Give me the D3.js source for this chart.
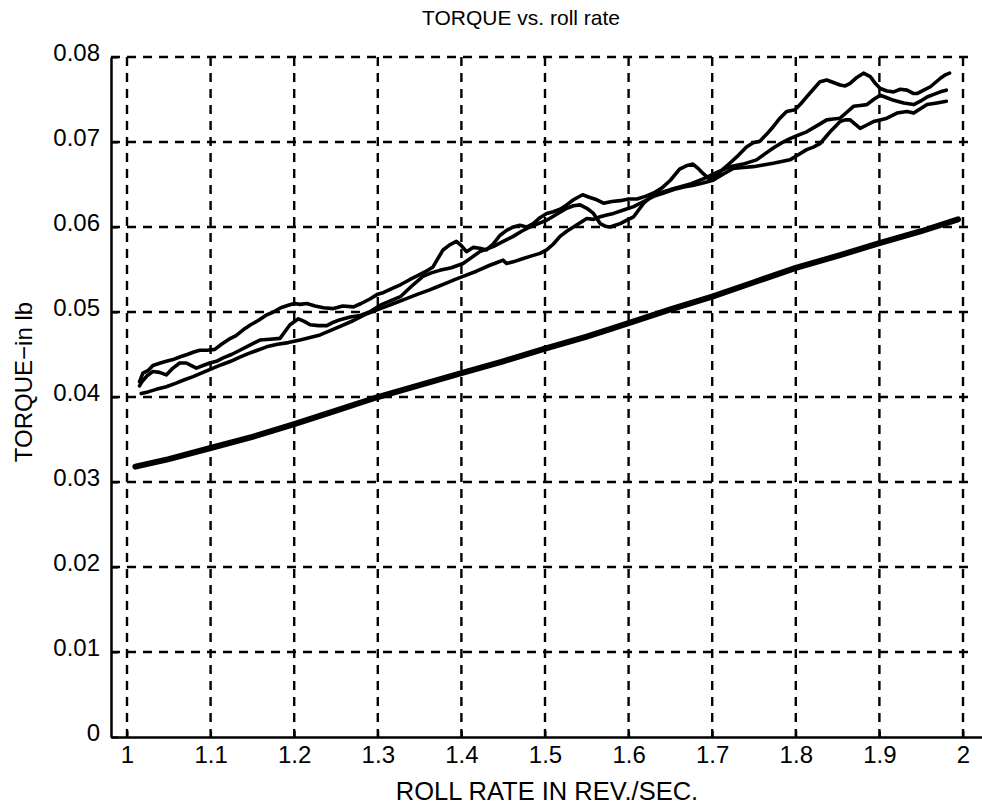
<!DOCTYPE html>
<html>
<head>
<meta charset="utf-8">
<script src="https://cdn.jsdelivr.net/npm/d3@7"></script>
<style>
    body { margin: 0; background: #fff; }
    text { font-family: 'Liberation Sans', Arial, sans-serif; fill: #000; }
</style>
</head>
<body>
<div id="container"></div>
<script>

// chart data: [roll rate, torque]
const xTicks = [1, 1.1, 1.2, 1.3, 1.4, 1.5, 1.6, 1.7, 1.8, 1.9, 2];
const yTicks = [0, 0.01, 0.02, 0.03, 0.04, 0.05, 0.06, 0.07, 0.08];

const runA = [[1.015,0.0418],[1.019,0.0428],[1.025,0.0431],[1.031,0.0437],[1.040,0.0440],[1.047,0.0442],[1.055,0.0444],[1.063,0.0447],[1.072,0.0450],[1.080,0.0453],[1.087,0.0455],[1.096,0.0455],[1.105,0.0456],[1.113,0.0462],[1.122,0.0468],[1.130,0.0472],[1.139,0.0479],[1.148,0.0485],[1.157,0.0490],[1.166,0.0496],[1.175,0.0500],[1.184,0.0505],[1.193,0.0508],[1.200,0.0510],[1.207,0.0509],[1.215,0.0510],[1.225,0.0507],[1.235,0.0505],[1.247,0.0504],[1.258,0.0507],[1.271,0.0506],[1.280,0.0510],[1.290,0.0515],[1.300,0.0521],[1.307,0.0523],[1.318,0.0528],[1.327,0.0532],[1.338,0.0538],[1.350,0.0544],[1.358,0.0548],[1.366,0.0553],[1.372,0.0563],[1.378,0.0573],[1.386,0.0579],[1.394,0.0583],[1.400,0.0578],[1.406,0.0571],[1.414,0.0576],[1.422,0.0575],[1.430,0.0573],[1.438,0.0580],[1.446,0.0590],[1.454,0.0596],[1.462,0.0600],[1.470,0.0602],[1.478,0.0600],[1.486,0.0604],[1.494,0.0611],[1.502,0.0616],[1.510,0.0618],[1.518,0.0621],[1.526,0.0626],[1.534,0.0632],[1.545,0.0638],[1.553,0.0635],[1.562,0.0632],[1.570,0.0628],[1.580,0.0630],[1.590,0.0631],[1.600,0.0633],[1.610,0.0633],[1.620,0.0636],[1.630,0.0640],[1.640,0.0646],[1.650,0.0655],[1.661,0.0668],[1.669,0.0672],[1.677,0.0674],[1.683,0.0669],[1.689,0.0663],[1.697,0.0656],[1.705,0.0660],[1.713,0.0668],[1.721,0.0675],[1.731,0.0684],[1.741,0.0694],[1.749,0.0699],[1.757,0.0701],[1.765,0.0709],[1.773,0.0718],[1.781,0.0728],[1.789,0.0736],[1.799,0.0738],[1.806,0.0745],[1.813,0.0753],[1.821,0.0762],[1.829,0.0771],[1.837,0.0773],[1.845,0.0770],[1.853,0.0767],[1.859,0.0766],[1.865,0.0769],[1.873,0.0776],[1.881,0.0781],[1.889,0.0777],[1.895,0.0769],[1.901,0.0763],[1.909,0.0760],[1.917,0.0759],[1.925,0.0762],[1.933,0.0761],[1.941,0.0757],[1.945,0.0757],[1.953,0.0761],[1.961,0.0765],[1.967,0.0770],[1.973,0.0775],[1.979,0.0779],[1.984,0.0781]];

const runB = [[1.015,0.0413],[1.018,0.0418],[1.024,0.0425],[1.031,0.0430],[1.039,0.0429],[1.047,0.0426],[1.055,0.0434],[1.063,0.0440],[1.071,0.0440],[1.077,0.0437],[1.083,0.0434],[1.091,0.0437],[1.099,0.0440],[1.107,0.0442],[1.115,0.0446],[1.125,0.0450],[1.135,0.0455],[1.147,0.0461],[1.159,0.0467],[1.171,0.0468],[1.183,0.0469],[1.189,0.0477],[1.195,0.0485],[1.205,0.0492],[1.212,0.0489],[1.219,0.0485],[1.229,0.0484],[1.239,0.0484],[1.247,0.0488],[1.255,0.0491],[1.267,0.0494],[1.279,0.0496],[1.290,0.0500],[1.303,0.0508],[1.315,0.0513],[1.327,0.0518],[1.340,0.0530],[1.354,0.0542],[1.364,0.0546],[1.374,0.0549],[1.388,0.0552],[1.402,0.0557],[1.412,0.0564],[1.422,0.0571],[1.430,0.0574],[1.438,0.0577],[1.450,0.0583],[1.462,0.0589],[1.472,0.0595],[1.482,0.0600],[1.492,0.0604],[1.502,0.0608],[1.514,0.0615],[1.526,0.0622],[1.534,0.0625],[1.542,0.0626],[1.550,0.0622],[1.558,0.0616],[1.566,0.0604],[1.572,0.0601],[1.578,0.0600],[1.584,0.0602],[1.590,0.0604],[1.598,0.0608],[1.606,0.0612],[1.612,0.0620],[1.618,0.0628],[1.630,0.0638],[1.640,0.0641],[1.650,0.0644],[1.661,0.0647],[1.675,0.0651],[1.690,0.0657],[1.705,0.0664],[1.721,0.0671],[1.737,0.0674],[1.753,0.0679],[1.763,0.0686],[1.773,0.0693],[1.783,0.0699],[1.793,0.0704],[1.803,0.0708],[1.813,0.0712],[1.825,0.0719],[1.837,0.0726],[1.845,0.0727],[1.853,0.0728],[1.861,0.0735],[1.869,0.0742],[1.877,0.0743],[1.885,0.0744],[1.893,0.0750],[1.901,0.0755],[1.909,0.0752],[1.917,0.0749],[1.929,0.0746],[1.941,0.0744],[1.949,0.0748],[1.957,0.0753],[1.965,0.0756],[1.973,0.0759],[1.980,0.0761]];

const runC = [[1.017,0.0404],[1.025,0.0406],[1.035,0.0409],[1.047,0.0412],[1.058,0.0416],[1.068,0.0420],[1.079,0.0424],[1.091,0.0429],[1.103,0.0434],[1.113,0.0438],[1.124,0.0442],[1.135,0.0447],[1.145,0.0451],[1.156,0.0455],[1.167,0.0459],[1.180,0.0462],[1.193,0.0464],[1.207,0.0467],[1.219,0.0470],[1.231,0.0473],[1.243,0.0478],[1.255,0.0483],[1.271,0.0490],[1.287,0.0498],[1.303,0.0504],[1.319,0.0510],[1.335,0.0516],[1.348,0.0521],[1.362,0.0526],[1.372,0.0530],[1.382,0.0534],[1.392,0.0538],[1.402,0.0542],[1.418,0.0548],[1.434,0.0555],[1.442,0.0558],[1.450,0.0561],[1.454,0.0557],[1.462,0.0559],[1.474,0.0563],[1.484,0.0566],[1.494,0.0569],[1.502,0.0573],[1.510,0.0580],[1.518,0.0589],[1.526,0.0595],[1.534,0.0600],[1.542,0.0605],[1.550,0.0610],[1.558,0.0609],[1.566,0.0612],[1.574,0.0614],[1.582,0.0616],[1.594,0.0620],[1.606,0.0624],[1.618,0.0630],[1.630,0.0636],[1.642,0.0640],[1.654,0.0644],[1.666,0.0647],[1.678,0.0649],[1.690,0.0652],[1.701,0.0655],[1.713,0.0662],[1.725,0.0669],[1.737,0.0670],[1.749,0.0671],[1.761,0.0673],[1.773,0.0675],[1.783,0.0677],[1.793,0.0679],[1.803,0.0685],[1.813,0.0691],[1.821,0.0694],[1.829,0.0698],[1.835,0.0705],[1.841,0.0712],[1.847,0.0718],[1.853,0.0724],[1.859,0.0726],[1.865,0.0726],[1.871,0.0721],[1.877,0.0716],[1.885,0.0720],[1.893,0.0724],[1.901,0.0726],[1.909,0.0728],[1.915,0.0731],[1.921,0.0734],[1.933,0.0736],[1.941,0.0734],[1.949,0.0739],[1.957,0.0744],[1.969,0.0746],[1.980,0.0748]];

const theory = [[1.010,0.0318],[1.05,0.0327],[1.10,0.0340],[1.15,0.0353],[1.20,0.0368],[1.25,0.0384],[1.30,0.0400],[1.35,0.0414],[1.40,0.0428],[1.45,0.0442],[1.50,0.0457],[1.55,0.0471],[1.60,0.0487],[1.65,0.0503],[1.70,0.0518],[1.75,0.0535],[1.80,0.0552],[1.85,0.0566],[1.90,0.0581],[1.95,0.0595],[1.994,0.0609]];

// svg chart dimensions
const w = 982;
const h = 807;
const padLeft = 111, padRight = 982, padTop = 57, padBottom = 737;

// create svg
const svg = d3.select('#container')
    .append('svg')
    .attr('width', w)
    .attr('height', h);

svg.append('rect').attr('width', w).attr('height', h).attr('fill', '#fff');

// create scales (1 -> 127px, 2 -> 963px)
const xScale = d3.scaleLinear()
    .domain([1 - 16 / 836, 1 + 855 / 836])
    .range([padLeft, padRight]);

const yScale = d3.scaleLinear()
    .domain([0, 0.08])
    .range([padBottom, padTop]);

// dashed grid
const grid = svg.append('g')
    .attr('stroke', '#000')
    .attr('stroke-width', 2.4)
    .attr('stroke-dasharray', '9,7');

grid.selectAll('.vgrid')
    .data(xTicks)
    .enter().append('line')
    .attr('x1', d => xScale(d))
    .attr('x2', d => xScale(d))
    .attr('y1', yScale(0.08))
    .attr('y2', yScale(0));

grid.selectAll('.hgrid')
    .data(yTicks.slice(1))
    .enter().append('line')
    .attr('x1', padLeft)
    .attr('x2', xScale(2.006))
    .attr('y1', d => yScale(d))
    .attr('y2', d => yScale(d));

// create axes
const xAxis = d3.axisBottom(xScale)
    .tickValues(xTicks)
    .tickSize(-6)
    .tickSizeOuter(0)
    .tickPadding(9)
    .tickFormat(d3.format('~g'));

const yAxis = d3.axisLeft(yScale)
    .tickValues(yTicks)
    .tickSize(-7)
    .tickSizeOuter(0)
    .tickPadding(11)
    .tickFormat(d3.format('~g'));

const gx = svg.append('g')
    .attr('transform', `translate(0, ${padBottom})`)
    .attr('id', 'x-axis')
    .call(xAxis);

const gy = svg.append('g')
    .attr('transform', `translate(${padLeft}, 0)`)
    .attr('id', 'y-axis')
    .call(yAxis);

[gx, gy].forEach(g => {
    g.select('.domain').attr('stroke', '#000').attr('stroke-width', 2.5);
    g.selectAll('.tick line').attr('stroke', '#000').attr('stroke-width', 2);
    g.selectAll('.tick text')
        .attr('fill', '#000')
        .style('font-size', '24px')
        .style('font-family', "'Liberation Sans', Arial, sans-serif");
});
gy.selectAll('.tick text').attr('dy', '0.16em');

// data lines
const line = d3.line()
    .x(d => xScale(d[0]))
    .y(d => yScale(d[1]));

svg.append('path')
    .datum(theory)
    .attr('d', line)
    .attr('fill', 'none')
    .attr('stroke', '#000')
    .attr('stroke-width', 6)
    .attr('stroke-linecap', 'round');

[runA, runB, runC].forEach(run => {
    svg.append('path')
        .datum(run)
        .attr('d', line)
        .attr('fill', 'none')
        .attr('stroke', '#000')
        .attr('stroke-width', 3.6)
        .attr('stroke-linejoin', 'round')
        .attr('stroke-linecap', 'round');
});

// titles
svg.append('text')
    .attr('x', 521)
    .attr('y', 25)
    .attr('text-anchor', 'middle')
    .style('font-size', '21px')
    .text('TORQUE vs. roll rate');

svg.append('text')
    .attr('x', 547)
    .attr('y', 800)
    .attr('text-anchor', 'middle')
    .style('font-size', '25.5px')
    .text('ROLL RATE IN REV./SEC.');

svg.append('text')
    .attr('transform', 'translate(32, 382) rotate(-90)')
    .attr('text-anchor', 'middle')
    .style('font-size', '24px')
    .text('TORQUE\u2212in lb');

</script>
</body>
</html>
